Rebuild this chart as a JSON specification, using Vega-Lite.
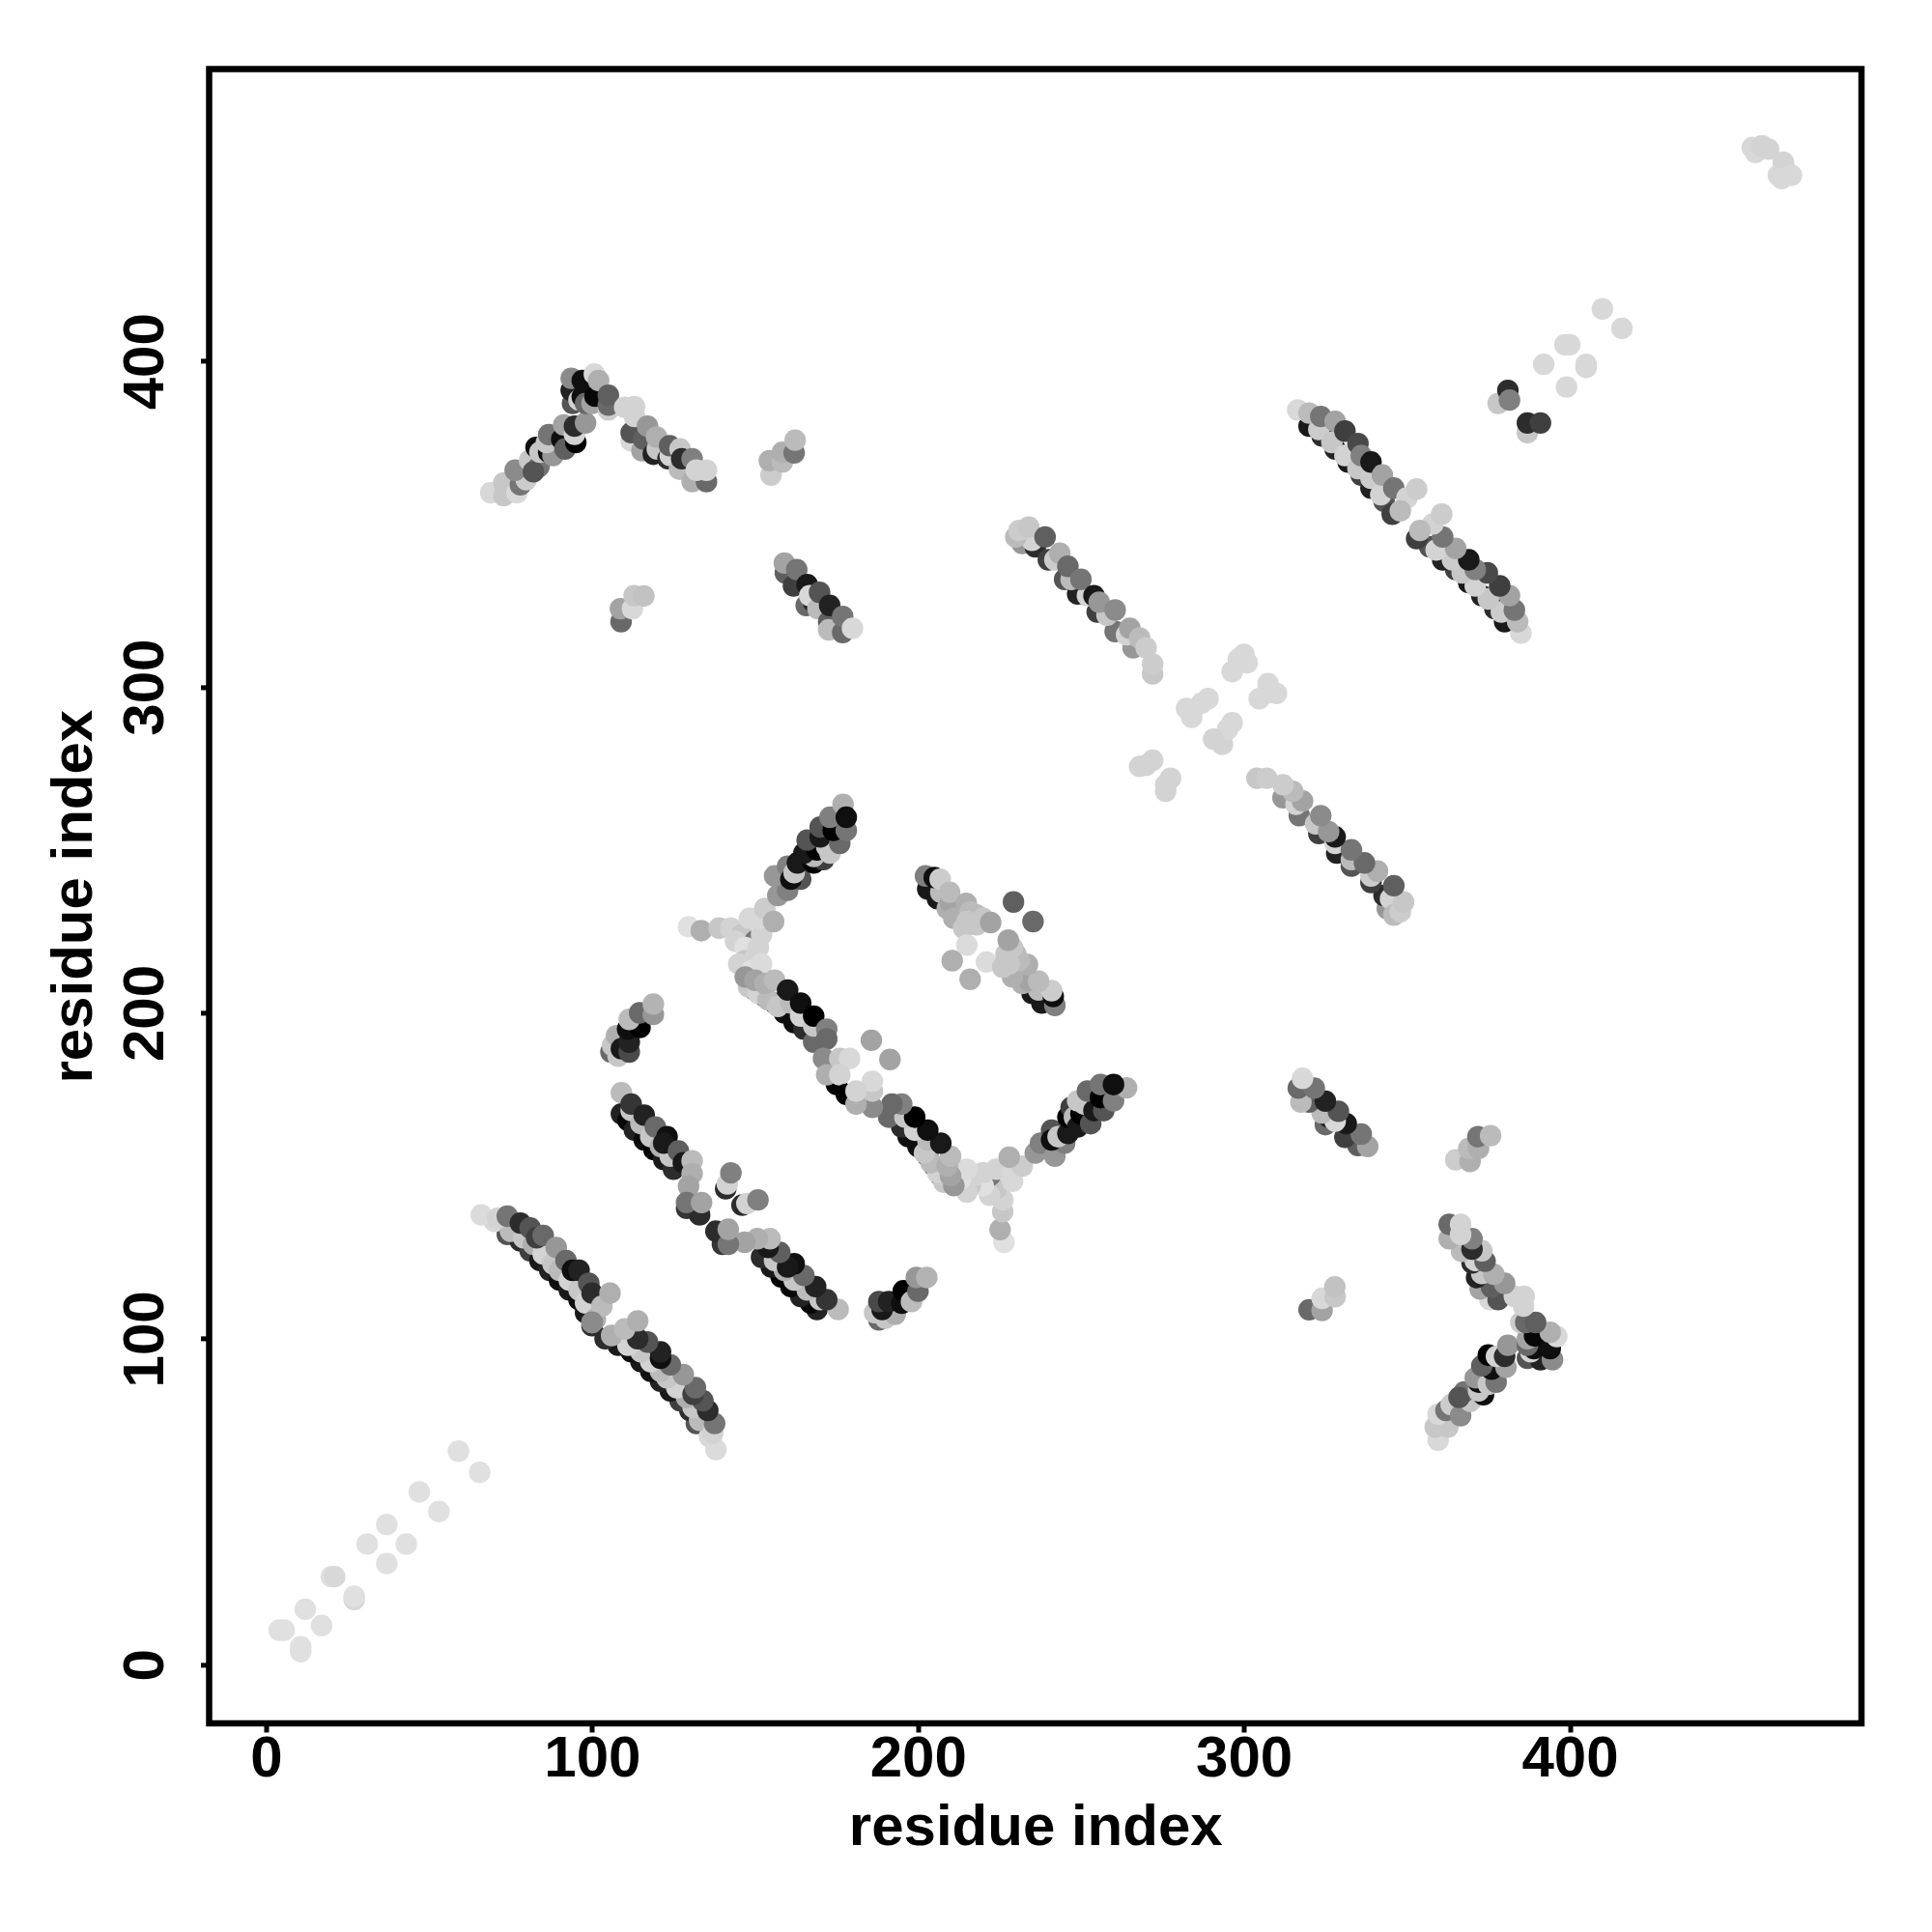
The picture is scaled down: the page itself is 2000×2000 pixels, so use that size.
{"$schema":"https://vega.github.io/schema/vega-lite/v6.json","autosize":{"type":"none"},"width":1710.5,"height":1712.6,"padding":{"left":216.5,"top":71.4,"right":70,"bottom":200},"background":"white","view":{"stroke":"#000000","strokeWidth":6.5},"config":{"axis":{"grid":false,"domain":false,"ticks":true,"tickColor":"#000000","tickWidth":5,"tickSize":9,"labelFont":"Liberation Sans","labelFontWeight":"bold","labelFontSize":60,"labelColor":"#000000","titleFont":"Liberation Sans","titleFontWeight":"bold","titleFontSize":60,"titleColor":"#000000"}},"data":{"values":[
{"x":4,"y":10.6,"s":1},{"x":5.5,"y":10.6,"s":1},{"x":10.6,"y":4,"s":1},{"x":10.6,"y":5.5,"s":1},{"x":12,"y":17,"s":1},{"x":17,"y":12,"s":1},{"x":20,"y":27,"s":1},{"x":21,"y":27,"s":0.97},{"x":27,"y":20,"s":0.97},{"x":27,"y":21,"s":1},{"x":31,"y":37,"s":1},{"x":37,"y":31,"s":1},{"x":37,"y":43,"s":1},{"x":43,"y":37,"s":1},{"x":47,"y":53,"s":1},{"x":53,"y":47,"s":1},{"x":59,"y":65.5,"s":1},{"x":65.5,"y":59,"s":1},
{"x":74,"y":132,"s":0.4},{"x":78,"y":130,"s":0.2},{"x":81,"y":127,"s":0.3},{"x":84,"y":124,"s":0.1},{"x":87,"y":121,"s":0.15},{"x":90,"y":118,"s":0.05},{"x":93,"y":115,"s":0.1},{"x":96,"y":112,"s":0.05},{"x":98,"y":108,"s":0.1},{"x":100,"y":104,"s":0.2},
{"x":70,"y":136,"s":0.97},{"x":75,"y":133,"s":0.85},{"x":79,"y":131,"s":0.9},{"x":82,"y":129,"s":0.8},{"x":85,"y":126,"s":0.95},{"x":88,"y":123,"s":0.9},{"x":90,"y":121,"s":0.85},{"x":93,"y":118,"s":0.95},{"x":96,"y":115,"s":0.9},{"x":98,"y":111,"s":0.95},{"x":101,"y":106,"s":0.8},
{"x":66,"y":138,"s":0.98},{"x":71,"y":137,"s":0.95},{"x":74,"y":137.6,"s":0.55},{"x":78,"y":135.5,"s":0.2},{"x":81,"y":134,"s":0.4},{"x":83,"y":131,"s":0.3},{"x":85,"y":131.7,"s":0.5},{"x":89,"y":128,"s":0.7},{"x":92,"y":124,"s":0.5},{"x":94,"y":121,"s":0.05},{"x":96,"y":121,"s":0.15},{"x":99,"y":117,"s":0.4},{"x":100,"y":114,"s":0.2},{"x":103,"y":110,"s":0.85},{"x":105.5,"y":114,"s":0.8},{"x":100,"y":105,"s":0.65},
{"y":74,"x":132,"s":0.4},{"y":78,"x":130,"s":0.2},{"y":81,"x":127,"s":0.3},{"y":84,"x":124,"s":0.1},{"y":87,"x":121,"s":0.15},{"y":90,"x":118,"s":0.05},{"y":93,"x":115,"s":0.1},{"y":96,"x":112,"s":0.05},{"y":98,"x":108,"s":0.1},{"y":100,"x":104,"s":0.2},
{"y":70,"x":136,"s":0.97},{"y":75,"x":133,"s":0.85},{"y":79,"x":131,"s":0.9},{"y":82,"x":129,"s":0.8},{"y":85,"x":126,"s":0.95},{"y":88,"x":123,"s":0.9},{"y":90,"x":121,"s":0.85},{"y":93,"x":118,"s":0.95},{"y":96,"x":115,"s":0.9},{"y":98,"x":111,"s":0.95},{"y":101,"x":106,"s":0.8},
{"y":66,"x":138,"s":0.98},{"y":71,"x":137,"s":0.95},{"y":74,"x":137.6,"s":0.55},{"y":78,"x":135.5,"s":0.2},{"y":81,"x":134,"s":0.4},{"y":83,"x":131,"s":0.3},{"y":85,"x":131.7,"s":0.5},{"y":89,"x":128,"s":0.7},{"y":92,"x":124,"s":0.5},{"y":94,"x":121,"s":0.05},{"y":96,"x":121,"s":0.15},{"y":99,"x":117,"s":0.4},{"y":100,"x":114,"s":0.2},{"y":103,"x":110,"s":0.85},{"y":105.5,"x":114,"s":0.8},{"y":105,"x":100,"s":0.65},
{"x":109,"y":169,"s":0.15},{"x":111,"y":167,"s":0.02},{"x":113,"y":164,"s":0.15},{"x":116,"y":161,"s":0.03},{"x":119,"y":158,"s":0},{"x":122,"y":155,"s":0.1},{"x":125,"y":152,"s":0.2},{"x":129,"y":140,"s":0.25},{"x":133,"y":138,"s":0.2},
{"x":112,"y":170,"s":0.9},{"x":115,"y":166,"s":0.85},{"x":118,"y":162,"s":0.9},{"x":121,"y":159,"s":0.8},{"x":124,"y":156,"s":0.9},
{"x":109,"y":175.5,"s":0.85},{"x":112,"y":172,"s":0.25},{"x":116,"y":168.6,"s":0.15},{"x":119.4,"y":165,"s":0.5},{"x":123,"y":162,"s":0.05},{"x":122,"y":160,"s":0.1},{"x":126.5,"y":157.6,"s":0.45},{"x":128,"y":154,"s":0.1},{"x":130.7,"y":154.6,"s":0.85},{"x":130.7,"y":150.7,"s":0.8},{"x":129.6,"y":146.8,"s":0.75},{"x":129,"y":141.8,"s":0.55},{"x":133.6,"y":141.8,"s":0.75},
{"x":141,"y":146,"s":0.2},{"x":141.5,"y":147.5,"s":0.95},{"x":142.6,"y":150.9,"s":0.6},
{"y":109,"x":169,"s":0.15},{"y":111,"x":167,"s":0.02},{"y":113,"x":164,"s":0.15},{"y":116,"x":161,"s":0.03},{"y":119,"x":158,"s":0},{"y":122,"x":155,"s":0.1},{"y":125,"x":152,"s":0.2},{"y":129,"x":140,"s":0.25},{"y":133,"x":138,"s":0.2},
{"y":112,"x":170,"s":0.9},{"y":115,"x":166,"s":0.85},{"y":118,"x":162,"s":0.9},{"y":121,"x":159,"s":0.8},{"y":124,"x":156,"s":0.9},
{"y":109,"x":175.5,"s":0.85},{"y":112,"x":172,"s":0.25},{"y":116,"x":168.6,"s":0.15},{"y":119.4,"x":165,"s":0.5},{"y":123,"x":162,"s":0.05},{"y":122,"x":160,"s":0.1},{"y":126.5,"x":157.6,"s":0.45},{"y":128,"x":154,"s":0.1},{"y":130.7,"x":154.6,"s":0.85},{"y":130.7,"x":150.7,"s":0.8},{"y":129.6,"x":146.8,"s":0.75},{"y":129,"x":141.8,"s":0.55},{"y":133.6,"x":141.8,"s":0.75},
{"y":141,"x":146,"s":0.2},{"y":141.5,"x":147.5,"s":0.95},{"y":142.6,"x":150.9,"s":0.6},
{"x":150,"y":207,"s":0.2},{"x":153,"y":205,"s":0.1},{"x":156,"y":203,"s":0.1},{"x":159,"y":200,"s":0.05},{"x":162,"y":197,"s":0.05},{"x":165,"y":195,"s":0.2},{"x":168,"y":191,"s":0.5},{"x":175,"y":178,"s":0},
{"x":148,"y":208,"s":0.9},{"x":151,"y":206,"s":0.95},{"x":154,"y":204,"s":0.85},{"x":157,"y":202,"s":0.9},{"x":161,"y":203,"s":0.85},{"x":164,"y":199,"s":0.95},{"x":168,"y":196,"s":0.9},
{"x":129.6,"y":226.4,"s":1},{"x":133.5,"y":225.2,"s":0.8},{"x":139,"y":226,"s":0.9},{"x":142.6,"y":226,"s":0.95},{"x":146,"y":224,"s":0.9},{"x":144,"y":222,"s":0.95},{"x":150,"y":222,"s":0.55},{"x":147,"y":220,"s":1},{"x":152,"y":224,"s":0.95},{"x":151,"y":220,"s":0.95},{"x":147,"y":216,"s":0.9},{"x":145,"y":215,"s":0.95},{"x":150,"y":217,"s":0.95},{"x":149,"y":213,"s":1},{"x":152,"y":215,"s":0.98},{"x":147,"y":211,"s":0.7},{"x":150,"y":210,"s":0.75},{"x":153,"y":209,"s":0.8},{"x":156,"y":210,"s":0.85},{"x":160,"y":207,"s":0.1},{"x":164,"y":203,"s":0.05},{"x":168,"y":199,"s":0},{"x":172,"y":195,"s":0.6},{"x":172,"y":192,"s":0.5},{"x":171,"y":186,"s":0.65},{"x":172,"y":181,"s":0.8},{"x":176,"y":186,"s":0.9},{"x":179,"y":186,"s":0.97},{"x":176,"y":181,"s":0.95},
{"x":185.7,"y":191.6,"s":0.75},{"x":191.4,"y":185.7,"s":0.75},
{"y":150,"x":207,"s":0.2},{"y":153,"x":205,"s":0.1},{"y":156,"x":203,"s":0.1},{"y":159,"x":200,"s":0.05},{"y":162,"x":197,"s":0.05},{"y":165,"x":195,"s":0.2},{"y":168,"x":191,"s":0.5},{"y":175,"x":178,"s":0},
{"y":148,"x":208,"s":0.9},{"y":151,"x":206,"s":0.95},{"y":154,"x":204,"s":0.85},{"y":157,"x":202,"s":0.9},{"y":161,"x":203,"s":0.85},{"y":164,"x":199,"s":0.95},{"y":168,"x":196,"s":0.9},
{"y":129.6,"x":226.4,"s":1},{"y":133.5,"x":225.2,"s":0.8},{"y":139,"x":226,"s":0.9},{"y":142.6,"x":226,"s":0.95},{"y":146,"x":224,"s":0.9},{"y":144,"x":222,"s":0.95},{"y":150,"x":222,"s":0.55},{"y":147,"x":220,"s":1},{"y":152,"x":224,"s":0.95},{"y":151,"x":220,"s":0.95},{"y":147,"x":216,"s":0.9},{"y":145,"x":215,"s":0.95},{"y":150,"x":217,"s":0.95},{"y":149,"x":213,"s":1},{"y":152,"x":215,"s":0.98},{"y":147,"x":211,"s":0.7},{"y":150,"x":210,"s":0.75},{"y":153,"x":209,"s":0.8},{"y":156,"x":210,"s":0.85},{"y":160,"x":207,"s":0.1},{"y":164,"x":203,"s":0.05},{"y":168,"x":199,"s":0},{"y":172,"x":195,"s":0.6},{"y":172,"x":192,"s":0.5},{"y":171,"x":186,"s":0.65},{"y":172,"x":181,"s":0.8},{"y":176,"x":186,"s":0.9},{"y":179,"x":186,"s":0.97},{"y":176,"x":181,"s":0.95},
{"x":148.3,"y":229,"s":0.97},{"x":151.7,"y":229,"s":0.97},{"x":153,"y":232,"s":0.92},{"x":155.7,"y":228,"s":0.8},{"x":157,"y":236,"s":0.7},{"x":160,"y":237.6,"s":0.6},{"x":156,"y":242,"s":0.7},{"x":160,"y":245,"s":0.6},{"x":164,"y":241,"s":0.4},{"x":161,"y":241,"s":0.05},{"x":162,"y":243,"s":0.9},{"x":163,"y":246,"s":0.1},{"x":168,"y":246,"s":0},{"x":171,"y":247,"s":0.3},{"x":168,"y":248,"s":0.85},{"x":165,"y":249,"s":0.1},{"x":169,"y":250,"s":0},{"x":173,"y":249,"s":0.9},{"x":172,"y":251,"s":0.9},{"x":166,"y":253,"s":0.4},{"x":170,"y":254,"s":0.1},{"x":176,"y":252,"s":0.5},{"x":170,"y":257,"s":0.4},{"x":174,"y":256,"s":0},{"x":173,"y":260,"s":0.6},{"x":178,"y":256,"s":0.55},{"x":177,"y":264,"s":0.8},{"x":178,"y":260,"s":0.05},
{"y":148.3,"x":229,"s":0.97},{"y":151.7,"x":229,"s":0.97},{"y":153,"x":232,"s":0.92},{"y":155.7,"x":228,"s":0.8},{"y":157,"x":236,"s":0.7},{"y":160,"x":237.6,"s":0.6},{"y":156,"x":242,"s":0.7},{"y":160,"x":245,"s":0.6},{"y":164,"x":241,"s":0.4},{"y":161,"x":241,"s":0.05},{"y":162,"x":243,"s":0.9},{"y":163,"x":246,"s":0.1},{"y":168,"x":246,"s":0},{"y":171,"x":247,"s":0.3},{"y":168,"x":248,"s":0.85},{"y":165,"x":249,"s":0.1},{"y":169,"x":250,"s":0},{"y":173,"x":249,"s":0.9},{"y":172,"x":251,"s":0.9},{"y":166,"x":253,"s":0.4},{"y":170,"x":254,"s":0.1},{"y":176,"x":252,"s":0.5},{"y":170,"x":257,"s":0.4},{"y":174,"x":256,"s":0},{"y":173,"x":260,"s":0.6},{"y":178,"x":256,"s":0.55},{"y":177,"x":264,"s":0.8},{"y":178,"x":260,"s":0.05},
{"x":204,"y":240,"s":0.1},{"x":203,"y":238,"s":0.1},{"x":206,"y":235,"s":0.1},{"x":207,"y":237,"s":0.85},{"x":209,"y":232,"s":0.8},{"x":210,"y":234,"s":0.75},{"x":211,"y":229,"s":0.8},{"x":214,"y":226,"s":0.9},
{"x":202.3,"y":242,"s":0.6},{"x":205,"y":241.5,"s":0.05},{"x":206.8,"y":241,"s":0.92},{"x":209.7,"y":237,"s":0.85},{"x":214.8,"y":233.6,"s":0.8},{"x":216,"y":231,"s":0.85},{"x":218,"y":230,"s":0.85},{"x":215,"y":228,"s":0.9},{"x":218,"y":227,"s":0.9},{"x":220,"y":229,"s":0.9},{"x":222.3,"y":227.7,"s":0.75},
{"x":229.3,"y":234,"s":0.45},{"x":235.3,"y":228,"s":0.5},{"x":215,"y":220.8,"s":0.98},{"x":210.5,"y":216,"s":0.8},{"x":221,"y":215.6,"s":0.98},{"x":216,"y":210.3,"s":0.8},
{"y":204,"x":240,"s":0.1},{"y":203,"x":238,"s":0.1},{"y":206,"x":235,"s":0.1},{"y":207,"x":237,"s":0.85},{"y":209,"x":232,"s":0.8},{"y":210,"x":234,"s":0.75},{"y":211,"x":229,"s":0.8},{"y":214,"x":226,"s":0.9},
{"y":202.3,"x":242,"s":0.6},{"y":205,"x":241.5,"s":0.05},{"y":206.8,"x":241,"s":0.92},{"y":209.7,"x":237,"s":0.85},{"y":214.8,"x":233.6,"s":0.8},{"y":216,"x":231,"s":0.85},{"y":218,"x":230,"s":0.85},{"y":215,"x":228,"s":0.9},{"y":218,"x":227,"s":0.9},{"y":220,"x":229,"s":0.9},{"y":222.3,"x":227.7,"s":0.75},
{"x":232,"y":344,"s":0.7},{"x":236,"y":343,"s":0.2},{"x":240,"y":339,"s":0.3},{"x":245,"y":333,"s":0.4},{"x":249,"y":328.5,"s":0.15},{"x":255,"y":323,"s":0.3},{"x":260.5,"y":317,"s":0.55},{"x":266,"y":312,"s":0.7},{"x":272,"y":304,"s":0.9},
{"x":235,"y":345,"s":0.95},{"x":242,"y":339,"s":0.92},{"x":247,"y":333,"s":0.85},{"x":252,"y":328,"s":0.95},{"x":258,"y":322,"s":0.9},{"x":264,"y":316,"s":0.95},
{"x":230,"y":346,"s":0.85},{"x":231,"y":348,"s":0.92},{"x":234,"y":349,"s":0.9},{"x":239,"y":346,"s":0.45},{"x":243.5,"y":341,"s":0.8},{"x":246,"y":337,"s":0.5},{"x":250,"y":333,"s":0.55},{"x":254,"y":328,"s":0.1},{"x":255.6,"y":326,"s":0.7},{"x":260.5,"y":323.6,"s":0.65},{"x":265,"y":318,"s":0.75},{"x":268,"y":315,"s":0.85},{"x":270,"y":312,"s":0.92},{"x":272,"y":307,"s":0.92},
{"y":232,"x":344,"s":0.7},{"y":236,"x":343,"s":0.2},{"y":240,"x":339,"s":0.3},{"y":245,"x":333,"s":0.4},{"y":249,"x":328.5,"s":0.15},{"y":255,"x":323,"s":0.3},{"y":260.5,"x":317,"s":0.55},{"y":266,"x":312,"s":0.7},{"y":272,"x":304,"s":0.9},
{"y":235,"x":345,"s":0.95},{"y":242,"x":339,"s":0.92},{"y":247,"x":333,"s":0.85},{"y":252,"x":328,"s":0.95},{"y":258,"x":322,"s":0.9},{"y":264,"x":316,"s":0.95},
{"y":230,"x":346,"s":0.85},{"y":231,"x":348,"s":0.92},{"y":234,"x":349,"s":0.9},{"y":239,"x":346,"s":0.45},{"y":243.5,"x":341,"s":0.8},{"y":246,"x":337,"s":0.5},{"y":250,"x":333,"s":0.55},{"y":254,"x":328,"s":0.1},{"y":255.6,"x":326,"s":0.7},{"y":260.5,"x":323.6,"s":0.65},{"y":265,"x":318,"s":0.75},{"y":268,"x":315,"s":0.85},{"y":270,"x":312,"s":0.92},{"y":272,"x":307,"s":0.92},
{"x":268,"y":275.6,"s":0.95},{"x":272,"y":277.5,"s":0.95},{"x":270,"y":276,"s":0.95},{"x":276,"y":268,"s":0.95},{"x":277.5,"y":272,"s":0.95},{"x":276,"y":270,"s":0.95},{"x":282.4,"y":293.4,"s":0.97},{"x":287,"y":295,"s":0.97},{"x":289,"y":296.4,"s":0.97},{"x":284,"y":290.7,"s":0.97},{"x":293.4,"y":282.4,"s":0.95},{"x":295,"y":287,"s":0.97},{"x":296.4,"y":289,"s":0.97},{"x":290.7,"y":284,"s":0.95},{"x":298.3,"y":308.5,"s":0.97},{"x":301,"y":307.4,"s":0.97},{"x":296.4,"y":304.7,"s":0.97},{"x":300,"y":310,"s":0.97},{"x":308.5,"y":298.3,"s":0.97},{"x":307.4,"y":301,"s":0.97},{"x":304.7,"y":296.4,"s":0.97},{"x":310,"y":298,"s":0.97},
{"x":320,"y":380,"s":0.1},{"x":324,"y":377,"s":0.2},{"x":328,"y":373,"s":0.15},{"x":332,"y":369,"s":0.1},{"x":336,"y":365,"s":0.3},{"x":339,"y":361,"s":0.15},{"x":343,"y":357,"s":0.4},{"x":345.5,"y":353,"s":0.3},
{"x":323,"y":379,"s":0.92},{"x":327,"y":375,"s":0.9},{"x":331,"y":371,"s":0.95},{"x":335,"y":367,"s":0.9},{"x":339,"y":364,"s":0.92},{"x":342,"y":359,"s":0.95},
{"x":316.5,"y":385,"s":0.97},{"x":320,"y":384,"s":0.85},{"x":323.6,"y":383,"s":0.55},{"x":328,"y":381.5,"s":0.75},{"x":331,"y":378.5,"s":0.3},{"x":335,"y":374.7,"s":0.35},{"x":336,"y":371,"s":0.6},{"x":339,"y":369,"s":0.1},{"x":342.5,"y":365,"s":0.75},{"x":346,"y":361,"s":0.55},{"x":350,"y":358,"s":0.95},{"x":353,"y":360.7,"s":0.92},{"x":348,"y":354,"s":0.85},
{"y":320,"x":380,"s":0.1},{"y":324,"x":377,"s":0.2},{"y":328,"x":373,"s":0.15},{"y":332,"x":369,"s":0.1},{"y":336,"x":365,"s":0.3},{"y":339,"x":361,"s":0.15},{"y":343,"x":357,"s":0.4},{"y":345.5,"x":353,"s":0.3},
{"y":323,"x":379,"s":0.92},{"y":327,"x":375,"s":0.9},{"y":331,"x":371,"s":0.95},{"y":335,"x":367,"s":0.9},{"y":339,"x":364,"s":0.92},{"y":342,"x":359,"s":0.95},
{"y":316.5,"x":385,"s":0.97},{"y":320,"x":384,"s":0.85},{"y":323.6,"x":383,"s":0.55},{"y":328,"x":381.5,"s":0.75},{"y":331,"x":378.5,"s":0.3},{"y":335,"x":374.7,"s":0.35},{"y":336,"x":371,"s":0.6},{"y":339,"x":369,"s":0.1},{"y":342.5,"x":365,"s":0.75},{"y":346,"x":361,"s":0.55},{"y":350,"x":358,"s":0.95},{"y":353,"x":360.7,"s":0.92},{"y":348,"x":354,"s":0.85},
{"x":378,"y":387,"s":0.9},{"x":381,"y":391,"s":0.2},{"x":381.5,"y":388,"s":0.6},{"x":387,"y":378,"s":0.9},{"x":387,"y":381,"s":0.2},{"x":391,"y":381,"s":0.3},{"x":392,"y":399,"s":0.97},{"x":399,"y":392,"s":0.97},{"x":398.5,"y":405,"s":0.97},{"x":400,"y":405,"s":0.97},{"x":405,"y":399,"s":0.97},{"x":405,"y":398,"s":0.97},{"x":410,"y":416,"s":0.97},{"x":416,"y":410,"s":0.97},{"x":456,"y":465.5,"s":0.97},{"x":457,"y":464,"s":0.97},{"x":459,"y":466,"s":0.95},{"x":461,"y":465,"s":0.95},{"x":465.5,"y":461,"s":0.95},{"x":464,"y":457,"s":0.97},{"x":466,"y":459,"s":0.95},{"x":465,"y":456,"s":0.97},{"x":468,"y":457,"s":0.97},
{"x":68.9,"y":359.6,"s":0.97},{"x":72.9,"y":358.7,"s":0.9},{"x":72.9,"y":362.6,"s":0.9},{"x":76.9,"y":359.6,"s":0.97},{"x":78,"y":362,"s":0.55},{"x":79.8,"y":363.6,"s":0.92},{"x":76.4,"y":366.5,"s":0.65},{"x":80.8,"y":369.5,"s":0.9},{"x":83.7,"y":367.6,"s":0.55},{"x":82,"y":366,"s":0.4},{"x":82.8,"y":373.5,"s":0.05},{"x":84,"y":372,"s":0.9},{"x":86.7,"y":372,"s":0.05},{"x":88,"y":371,"s":0.7},{"x":86,"y":375,"s":0.9},{"x":86.7,"y":377.4,"s":0.55},{"x":90.7,"y":376,"s":0.05},{"x":91.7,"y":373,"s":0.45},{"x":91.3,"y":380.4,"s":0.75},{"x":95,"y":375,"s":0},{"x":94.6,"y":377.5,"s":0.95},{"x":94.6,"y":380,"s":0.2},{"x":98,"y":381,"s":0.7},
{"x":94,"y":387,"s":0.4},{"x":93.6,"y":391,"s":0.15},{"x":96,"y":388,"s":0.95},{"x":97,"y":389,"s":0.05},{"x":98,"y":387,"s":0.5},{"x":100,"y":387,"s":0.75},{"x":100.9,"y":389.2,"s":0.02},{"x":93.6,"y":394.7,"s":0.65},{"x":97,"y":394,"s":0.05},{"x":100.7,"y":396,"s":0.97},{"x":102,"y":394,"s":0.8},{"x":105,"y":385,"s":0.92},{"x":105,"y":386.5,"s":0.5},{"x":105,"y":389.5,"s":0.45},
{"x":112,"y":375.5,"s":0.97},{"x":112,"y":378,"s":0.4},{"x":115.3,"y":372.5,"s":0.75},{"x":115.8,"y":376,"s":0.45},{"x":118.8,"y":371.4,"s":0.15},{"x":120,"y":373,"s":0.9},{"x":123.3,"y":370,"s":0.2},{"x":124,"y":371,"s":0.95},{"x":126.8,"y":366.8,"s":0.85},{"x":130.7,"y":363,"s":0.8},{"x":135.1,"y":363,"s":0.5},{"x":110,"y":385.8,"s":0.95},{"x":113,"y":383,"s":0.95},{"x":113,"y":386,"s":0.95},{"x":117,"y":380,"s":0.7},{"x":119.8,"y":376.7,"s":0.8},{"x":123.8,"y":374,"s":0.45},{"x":127,"y":373,"s":0.9},{"x":127.5,"y":370,"s":0.2},{"x":130.7,"y":370,"s":0.6},{"x":132,"y":366.5,"s":0.95},{"x":135.1,"y":366.5,"s":0.95},
{"y":68.9,"x":359.6,"s":0.97},{"y":72.9,"x":358.7,"s":0.9},{"y":72.9,"x":362.6,"s":0.9},{"y":76.9,"x":359.6,"s":0.97},{"y":78,"x":362,"s":0.55},{"y":79.8,"x":363.6,"s":0.92},{"y":76.4,"x":366.5,"s":0.65},{"y":80.8,"x":369.5,"s":0.9},{"y":83.7,"x":367.6,"s":0.55},{"y":82,"x":366,"s":0.4},{"y":82.8,"x":373.5,"s":0.05},{"y":84,"x":372,"s":0.9},{"y":86.7,"x":372,"s":0.05},{"y":88,"x":371,"s":0.7},{"y":86,"x":375,"s":0.9},{"y":86.7,"x":377.4,"s":0.55},{"y":90.7,"x":376,"s":0.05},{"y":91.7,"x":373,"s":0.45},{"y":91.3,"x":380.4,"s":0.75},{"y":95,"x":375,"s":0},{"y":94.6,"x":377.5,"s":0.95},{"y":94.6,"x":380,"s":0.2},{"y":98,"x":381,"s":0.7},
{"y":94,"x":387,"s":0.4},{"y":93.6,"x":391,"s":0.15},{"y":96,"x":388,"s":0.95},{"y":97,"x":389,"s":0.05},{"y":98,"x":387,"s":0.5},{"y":100,"x":387,"s":0.75},{"y":100.9,"x":389.2,"s":0.02},{"y":93.6,"x":394.7,"s":0.65},{"y":97,"x":394,"s":0.05},{"y":100.7,"x":396,"s":0.97},{"y":102,"x":394,"s":0.8},{"y":105,"x":385,"s":0.92},{"y":105,"x":386.5,"s":0.5},{"y":105,"x":389.5,"s":0.45},
{"y":112,"x":375.5,"s":0.97},{"y":112,"x":378,"s":0.4},{"y":115.3,"x":372.5,"s":0.75},{"y":115.8,"x":376,"s":0.45},{"y":118.8,"x":371.4,"s":0.15},{"y":120,"x":373,"s":0.9},{"y":123.3,"x":370,"s":0.2},{"y":124,"x":371,"s":0.95},{"y":126.8,"x":366.8,"s":0.85},{"y":130.7,"x":363,"s":0.8},{"y":135.1,"x":363,"s":0.5},{"y":110,"x":385.8,"s":0.95},{"y":113,"x":383,"s":0.95},{"y":113,"x":386,"s":0.95},{"y":117,"x":380,"s":0.7},{"y":119.8,"x":376.7,"s":0.8},{"y":123.8,"x":374,"s":0.45},{"y":127,"x":373,"s":0.9},{"y":127.5,"x":370,"s":0.2},{"y":130.7,"x":370,"s":0.6},{"y":132,"x":366.5,"s":0.95},{"y":135.1,"x":366.5,"s":0.95},
{"x":108.9,"y":320,"s":0.5},{"x":108.7,"y":324,"s":0.75},{"x":112.4,"y":324,"s":0.97},{"x":112.9,"y":328,"s":0.9},{"x":115.9,"y":327.9,"s":0.88},{"y":108.9,"x":320,"s":0.5},{"y":108.7,"x":324,"s":0.75},{"y":112.4,"x":324,"s":0.97},{"y":112.9,"x":328,"s":0.9},{"y":115.9,"x":327.9,"s":0.88},
{"x":159.3,"y":335,"s":0.45},{"x":161.8,"y":331,"s":0.3},{"x":159,"y":338,"s":0.75},{"x":162.8,"y":336,"s":0.55},{"x":165.7,"y":325,"s":0.5},{"x":166,"y":331.4,"s":0.1},{"x":168,"y":326,"s":0.15},{"x":166.8,"y":328,"s":0.97},{"x":169.3,"y":324,"s":0.85},{"x":169.8,"y":329,"s":0.4},{"x":172.6,"y":320,"s":0.45},{"x":172.9,"y":325,"s":0.15},{"x":172.6,"y":317.5,"s":0.85},{"x":176.9,"y":316.7,"s":0.5},{"x":176.9,"y":321.6,"s":0.55},{"x":179.9,"y":318,"s":0.97},
{"y":159.3,"x":335,"s":0.45},{"y":161.8,"x":331,"s":0.3},{"y":159,"x":338,"s":0.75},{"y":162.8,"x":336,"s":0.55},{"y":165.7,"x":325,"s":0.5},{"y":166,"x":331.4,"s":0.1},{"y":168,"x":326,"s":0.15},{"y":166.8,"x":328,"s":0.97},{"y":169.3,"x":324,"s":0.85},{"y":169.8,"x":329,"s":0.4},{"y":172.6,"x":320,"s":0.45},{"y":172.9,"x":325,"s":0.15},{"y":172.6,"x":317.5,"s":0.85},{"y":176.9,"x":316.7,"s":0.5},{"y":176.9,"x":321.6,"s":0.55},{"y":179.9,"x":318,"s":0.97},
{"x":154.9,"y":365,"s":0.92},{"x":154.4,"y":369.4,"s":0.8},{"x":158.4,"y":369,"s":0.85},{"x":158.4,"y":372,"s":0.8},{"x":162,"y":371.8,"s":0.55},{"x":162.3,"y":375.7,"s":0.85},{"y":154.9,"x":365,"s":0.92},{"y":154.4,"x":369.4,"s":0.8},{"y":158.4,"x":369,"s":0.85},{"y":158.4,"x":372,"s":0.8},{"y":162,"x":371.8,"s":0.55},{"y":162.3,"x":375.7,"s":0.85},
{"x":105.8,"y":188,"s":0.5},{"x":108,"y":186.7,"s":0.9},{"x":106.3,"y":190,"s":0.9},{"x":107.5,"y":193,"s":0.8},{"x":109,"y":189,"s":0.1},{"x":111.4,"y":188,"s":0.35},{"x":111.4,"y":191,"s":0.15},{"x":110.9,"y":195,"s":0.05},{"x":114.7,"y":195.5,"s":0},{"x":111.4,"y":198,"s":0.85},{"x":114.6,"y":200,"s":0.5},{"x":118.8,"y":199.5,"s":0.7},{"x":118.8,"y":202.7,"s":0.82},
{"y":105.8,"x":188,"s":0.5},{"y":108,"x":186.7,"s":0.9},{"y":106.3,"x":190,"s":0.9},{"y":107.5,"x":193,"s":0.8},{"y":109,"x":189,"s":0.1},{"y":111.4,"x":188,"s":0.35},{"y":111.4,"x":191,"s":0.15},{"y":110.9,"x":195,"s":0.05},{"y":114.7,"x":195.5,"s":0},{"y":111.4,"x":198,"s":0.85},{"y":114.6,"x":200,"s":0.5},{"y":118.8,"x":199.5,"s":0.7},{"y":118.8,"x":202.7,"s":0.82}
]},"mark":{"type":"point","shape":"circle","filled":true,"opacity":1,"size":500,"strokeWidth":0},"encoding":{"x":{"field":"x","type":"quantitative","scale":{"domain":[-17.5,489.5],"nice":false,"zero":false},"axis":{"values":[0,100,200,300,400],"title":"residue index","labelPadding":-2,"labelBaseline":"top","titlePadding":12.5,"labelFlush":false}},"y":{"field":"y","type":"quantitative","scale":{"domain":[-18,489.6],"nice":false,"zero":false},"axis":{"values":[0,100,200,300,400],"title":"residue index","labelAngle":-90,"labelAlign":"center","labelBaseline":"bottom","labelPadding":26,"titlePadding":13,"labelFlush":false}},"color":{"field":"s","type":"quantitative","legend":null,"scale":{"domain":[0,1],"range":["#000000","#e0e0e0"]}}}}
